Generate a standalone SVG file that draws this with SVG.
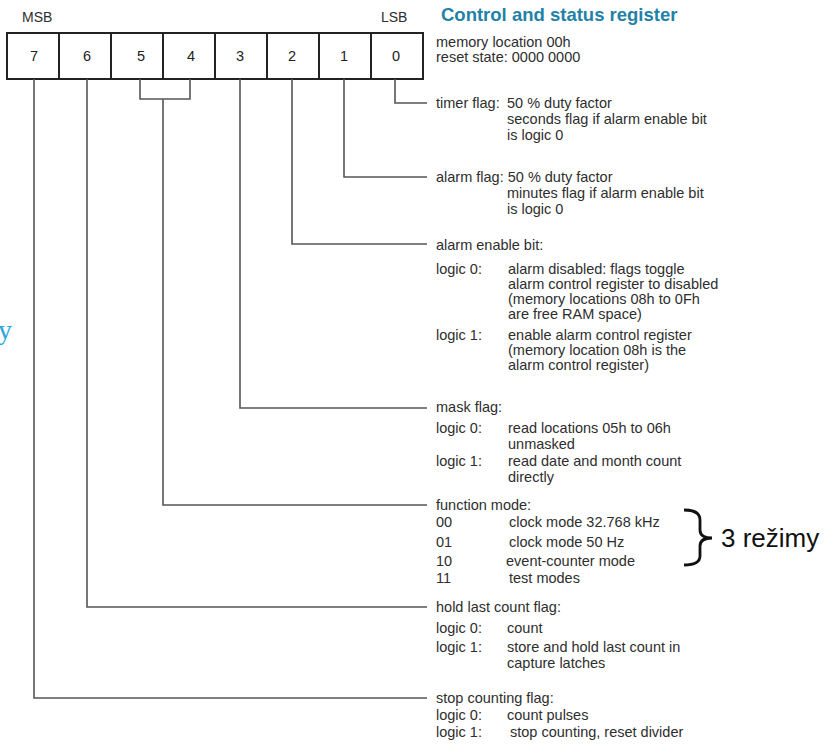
<svg xmlns="http://www.w3.org/2000/svg" width="840" height="747" viewBox="0 0 840 747">
<style>
text{font-family:"Liberation Sans",Arial,sans-serif;fill:#2e2e2e;}
.t{font-size:14.5px;}
.d{font-size:14.5px;text-anchor:middle;fill:#222;}
.h{font-size:14px;}
.ttl{font-size:18.5px;font-weight:bold;fill:#1f82a6;}
.con{fill:none;stroke:#555;stroke-width:1.6;}
.cell{fill:#fff;stroke:#222;stroke-width:2;}
</style>
<rect width="840" height="747" fill="#fff"/>
<text x="-2" y="339" style="font-family:'Liberation Serif',serif;font-size:28px;fill:#2aa6df;">y</text>
<g id="title"><text class="ttl" x="441" y="21">Control and status register</text></g>
<g id="msb"><text class="h" x="22" y="22">MSB</text></g>
<g id="lsb"><text class="h" x="381" y="22">LSB</text></g>
<g id="register">
<rect class="cell" x="7" y="33" width="416" height="46"/>
<path d="M59 33V79M111 33V79M163 33V79M215 33V79M267 33V79M319 33V79M371 33V79" stroke="#222" stroke-width="2"/>
<text class="d" x="34" y="61">7</text>
<text class="d" x="87" y="61">6</text>
<text class="d" x="141" y="61">5</text>
<text class="d" x="191" y="61">4</text>
<text class="d" x="240" y="61">3</text>
<text class="d" x="292" y="61">2</text>
<text class="d" x="344" y="61">1</text>
<text class="d" x="396" y="61">0</text>
</g>
<g id="info">
<text class="t" x="436" y="47">memory location 00h</text>
<text class="t" x="436" y="62">reset state: 0000 0000</text>
</g>
<g id="connectors">
<path class="con" d="M395 79V103H427"/>
<path class="con" d="M344 79V177H427"/>
<path class="con" d="M292 79V244H427"/>
<path class="con" d="M240 79V408H427"/>
<path class="con" d="M140 79V99H190V79"/>
<path class="con" d="M163 99V505H427"/>
<path class="con" d="M87 79V607H427"/>
<path class="con" d="M34 79V698H427"/>
</g>
<g id="timer-flag">
<text class="t" x="436" y="108">timer flag:</text>
<text class="t" x="507" y="108">50 % duty factor</text>
<text class="t" x="507" y="124">seconds flag if alarm enable bit</text>
<text class="t" x="507" y="140">is logic 0</text>
</g>
<g id="alarm-flag">
<text class="t" x="436" y="182">alarm flag: 50 % duty factor</text>
<text class="t" x="507" y="198">minutes flag if alarm enable bit</text>
<text class="t" x="507" y="214">is logic 0</text>
</g>
<g id="alarm-enable">
<text class="t" x="436" y="250">alarm enable bit:</text>
<text class="t" x="436" y="274">logic 0:</text>
<text class="t" x="508" y="274">alarm disabled: flags toggle</text>
<text class="t" x="508" y="289">alarm control register to disabled</text>
<text class="t" x="508" y="304">(memory locations 08h to 0Fh</text>
<text class="t" x="508" y="319">are free RAM space)</text>
<text class="t" x="436" y="340">logic 1:</text>
<text class="t" x="508" y="340">enable alarm control register</text>
<text class="t" x="508" y="355">(memory location 08h is the</text>
<text class="t" x="508" y="370">alarm control register)</text>
</g>
<g id="mask-flag">
<text class="t" x="436" y="412">mask flag:</text>
<text class="t" x="436" y="433">logic 0:</text>
<text class="t" x="508" y="433">read locations 05h to 06h</text>
<text class="t" x="508" y="449">unmasked</text>
<text class="t" x="436" y="466">logic 1:</text>
<text class="t" x="508" y="466">read date and month count</text>
<text class="t" x="508" y="482">directly</text>
</g>
<g id="function-mode">
<text class="t" x="436" y="510">function mode:</text>
<text class="t" x="436" y="527">00</text>
<text class="t" x="509" y="527">clock mode 32.768 kHz</text>
<text class="t" x="436" y="547">01</text>
<text class="t" x="509" y="547">clock mode 50 Hz</text>
<text class="t" x="436" y="566">10</text>
<text class="t" x="506" y="566">event-counter mode</text>
<text class="t" x="436" y="583">11</text>
<text class="t" x="509" y="583">test modes</text>
</g>
<g id="modes-brace">
<path d="M684 510Q700 510 700 520V530Q700 538 712 538Q700 538 700 546V556Q700 565 684 565" fill="none" stroke="#111" stroke-width="2.8"/>
<text x="721" y="547" style="font-size:26px;fill:#111;">3 režimy</text>
</g>
<g id="hold-flag">
<text class="t" x="436" y="612">hold last count flag:</text>
<text class="t" x="436" y="633">logic 0:</text>
<text class="t" x="507" y="633">count</text>
<text class="t" x="436" y="652">logic 1:</text>
<text class="t" x="507" y="652">store and hold last count in</text>
<text class="t" x="507" y="668">capture latches</text>
</g>
<g id="stop-flag">
<text class="t" x="436" y="703">stop counting flag:</text>
<text class="t" x="436" y="720">logic 0:</text>
<text class="t" x="507" y="720">count pulses</text>
<text class="t" x="436" y="737">logic 1:</text>
<text class="t" x="510" y="737">stop counting, reset divider</text>
</g>
</svg>
